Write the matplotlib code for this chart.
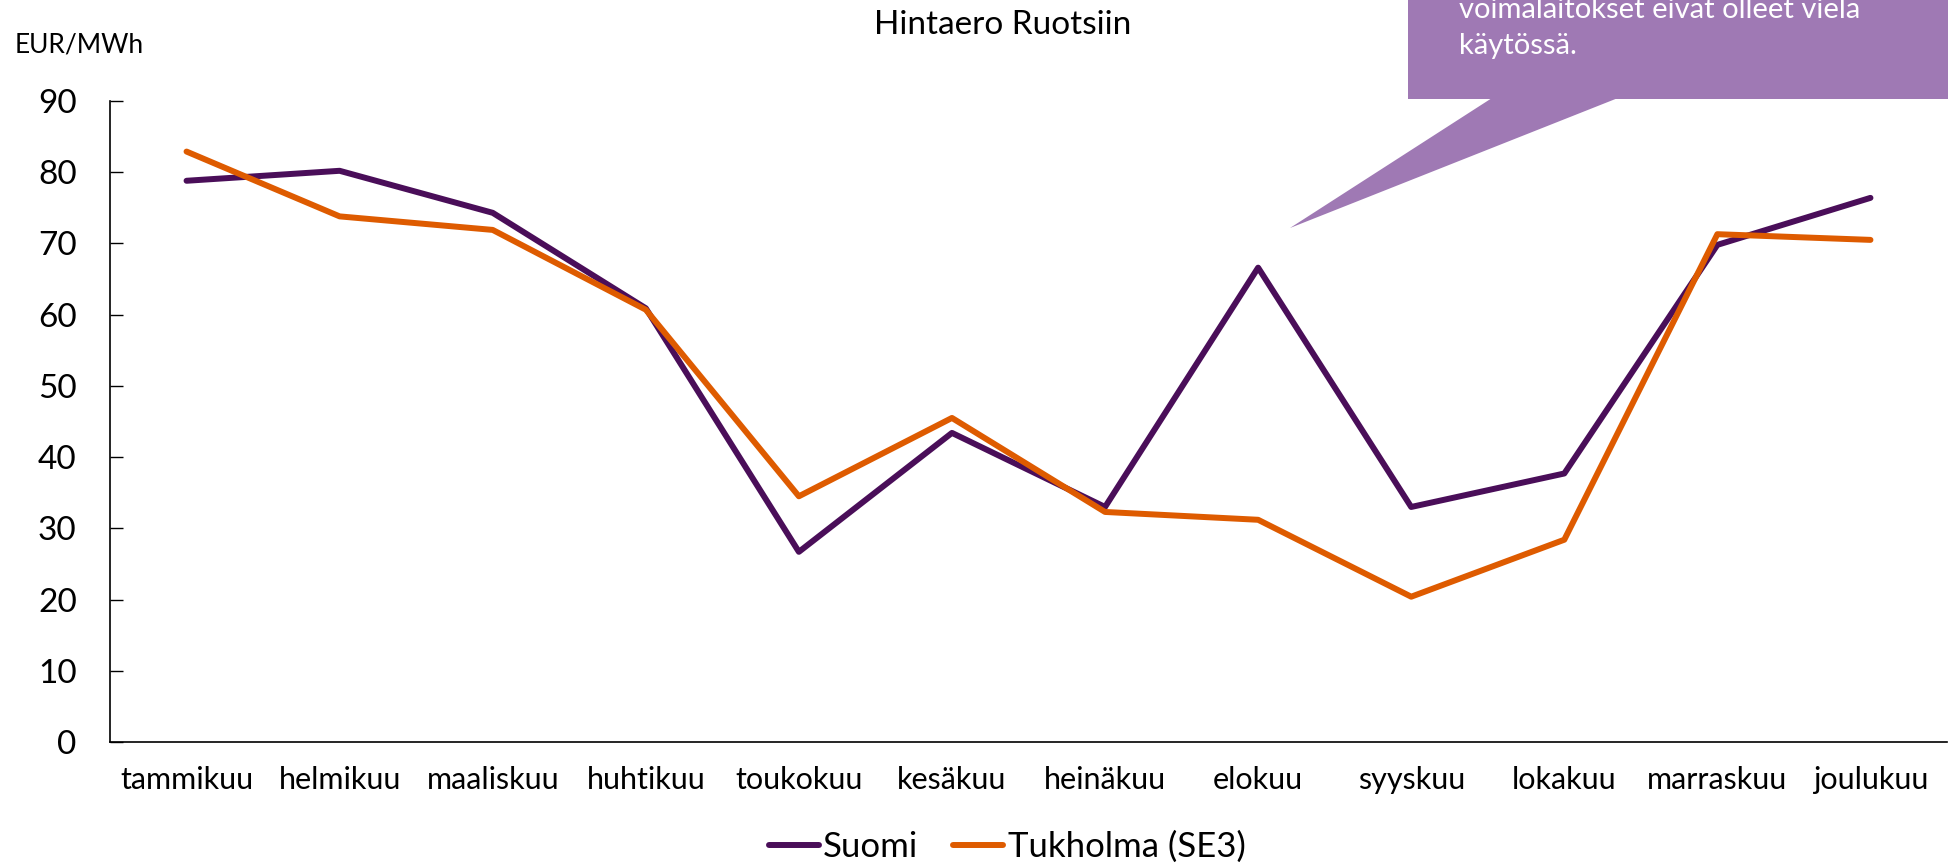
import numpy as np
import matplotlib
matplotlib.use("Agg")
import matplotlib.pyplot as plt
from matplotlib.patches import Polygon

plt.rcParams['font.family'] = ['Lato', 'DejaVu Sans']

kuukaudet = ['tammikuu', 'helmikuu', 'maaliskuu', 'huhtikuu', 'toukokuu', 'kesäkuu',
             'heinäkuu', 'elokuu', 'syyskuu', 'lokakuu', 'marraskuu', 'joulukuu']
suomi = [78.8, 80.2, 74.3, 60.9, 26.7, 43.4, 33.0, 66.6, 33.0, 37.7, 69.8, 76.4]
tukholma = [82.9, 73.8, 71.9, 60.7, 34.5, 45.5, 32.3, 31.2, 20.4, 28.4, 71.3, 70.5]
y_ticks = [0, 10, 20, 30, 40, 50, 60, 70, 80, 90]

W, H = 1949, 864
fig = plt.figure(figsize=(W / 100, H / 100), dpi=100)
ax = fig.add_axes([110 / W, 1 - 742 / H, (1947 - 110) / W, (742 - 101) / H])

x = np.arange(len(kuukaudet))
ax.plot(x, suomi, color='#4a0e59', lw=4.3, label='Suomi', solid_capstyle='round')
ax.plot(x, tukholma, color='#de5b00', lw=4.3, label='Tukholma (SE3)', solid_capstyle='round')

ax.set_xlim(-0.5, len(kuukaudet) - 0.5)
ax.set_ylim(0, 90)
ax.set_yticks(y_ticks)
ax.set_xticks(x)
ax.set_xticklabels(kuukaudet, fontsize=22)
ax.tick_params(axis='x', length=0, pad=17)
ax.tick_params(axis='y', direction='in', length=9, width=1, labelsize=24, pad=24)
for s in ['top', 'right']:
    ax.spines[s].set_visible(False)
for s in ['left', 'bottom']:
    ax.spines[s].set_linewidth(1.2)

fig.text(1003 / W, 1 - 25 / H, 'Hintaero Ruotsiin', ha='center', va='center', fontsize=24)
fig.text(15 / W, 1 - 53 / H, 'EUR/MWh', ha='left', va='baseline', fontsize=19)

leg = ax.legend(loc='center', bbox_to_anchor=((1007 - 110) / (1947 - 110), (742 - 847) / (742 - 101)),
                ncol=2, frameon=False, fontsize=25, handlelength=1.45,
                handletextpad=0.12, columnspacing=1.0)

# puhekupla (yläosa jää kuvan ulkopuolelle kuten alkuperäisessä)
kupla = '#9f79b4'
fig.patches.append(Polygon([[1408 / W, 1.05], [1.01, 1.05], [1.01, 1 - 99 / H], [1408 / W, 1 - 99 / H]],
                           closed=True, transform=fig.transFigure, facecolor=kupla, edgecolor='none'))
fig.patches.append(Polygon([[1492 / W, 1 - 98 / H], [1618 / W, 1 - 98 / H], [1290 / W, 1 - 228 / H]],
                           closed=True, transform=fig.transFigure, facecolor=kupla, edgecolor='none'))
fig.text(1459 / W, 1 - 18 / H, 'voimalaitokset eivät olleet vielä', ha='left',
         va='baseline', fontsize=21, color='white')
fig.text(1459 / W, 1 - 54 / H, 'käytössä.', ha='left',
         va='baseline', fontsize=21, color='white')

fig.savefig('out.png', dpi=100)
